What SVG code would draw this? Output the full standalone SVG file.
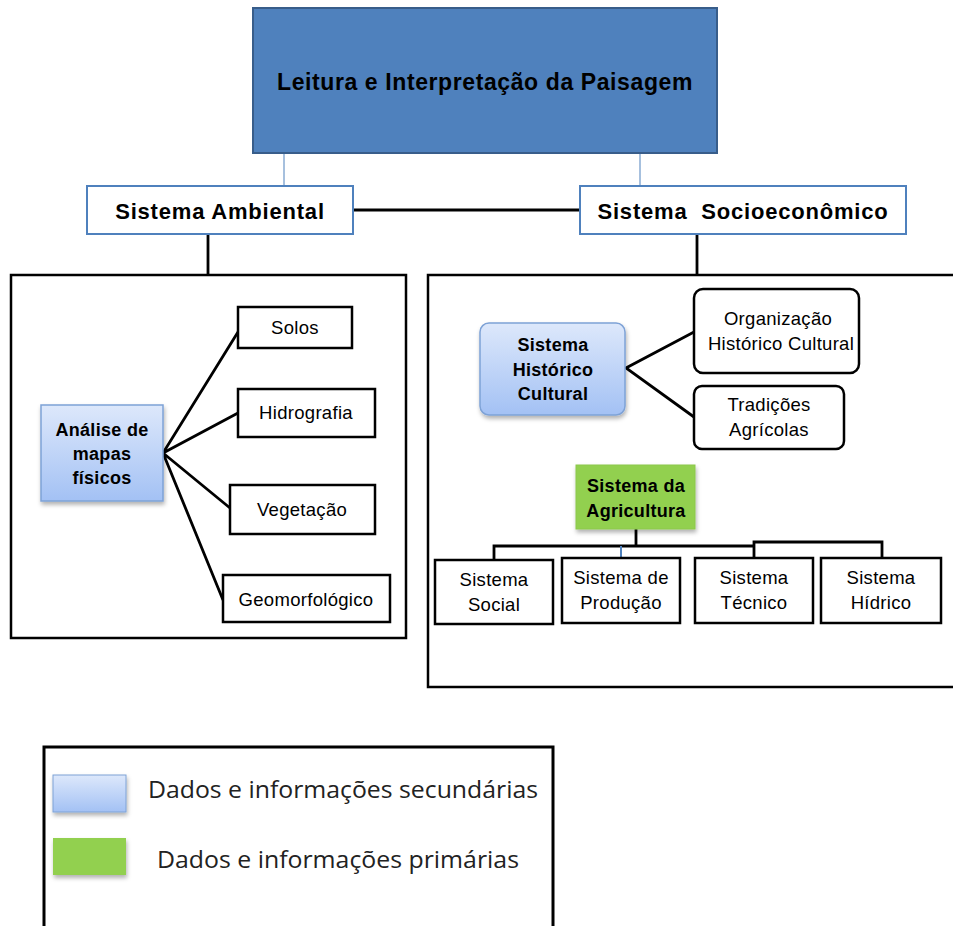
<svg xmlns="http://www.w3.org/2000/svg" width="953" height="926" viewBox="0 0 953 926">
<style>
text{font-family:"Liberation Sans","DejaVu Sans",sans-serif;fill:#000;text-anchor:middle}
.b{font-weight:bold}
.box{fill:#fff;stroke:#000;stroke-width:2.5}
.sys{fill:#fff;stroke:#4f81bd;stroke-width:2}
.ln{stroke:#000;stroke-width:2.8;fill:none}
.thin{stroke:#4f81bd;stroke-width:1;fill:none}
.n{font-size:18.5px;letter-spacing:0.3px}
.nb{font-size:18px;font-weight:bold;letter-spacing:0.3px}
.leg{font-family:"Open Sans","Liberation Sans",sans-serif;font-size:23px;text-anchor:start;fill:#222}
</style>
<defs>
<linearGradient id="gb" x1="0" y1="0" x2="0" y2="1"><stop offset="0" stop-color="#dde8fb"/><stop offset="1" stop-color="#a3c1f4"/></linearGradient>
<filter id="sh" x="-10%" y="-10%" width="130%" height="130%"><feDropShadow dx="1" dy="3" stdDeviation="2" flood-color="#000" flood-opacity="0.3"/></filter>
</defs>
<rect width="953" height="926" fill="#fff"/>
<g id="left-frame"><rect class="box" x="11" y="275" width="395" height="363"/></g>
<g id="right-frame"><rect class="box" x="428" y="275" width="540" height="412"/></g>
<g id="connectors">
<line class="thin" x1="284" y1="153" x2="284" y2="186"/>
<line class="thin" x1="640" y1="153" x2="640" y2="186"/>
<line class="ln" x1="353" y1="210" x2="580" y2="210"/>
<line class="ln" x1="208" y1="234" x2="208" y2="275"/>
<line class="ln" x1="697" y1="234" x2="697" y2="275"/>
<polyline class="ln" points="238,332 163,453 238,413"/>
<polyline class="ln" points="230,508 163,453 223,600"/>
<polyline class="ln" points="694,332 626,368 694,417"/>
<polyline class="ln" points="636,529 636,546"/>
<polyline class="ln" points="494,560 494,546 754,546"/>
<polyline class="ln" points="754,558 754,542 882,542 882,558"/>
<line x1="621" y1="546" x2="621" y2="558" stroke="#4f81bd" stroke-width="2"/>
</g>
<g id="title">
<rect x="253" y="8" width="464" height="145" fill="#4f81bd" stroke="#385d8a" stroke-width="2"/>
<text class="b" x="485" y="90" font-size="23" letter-spacing="0.6">Leitura e Interpretação da Paisagem</text>
</g>
<g id="ambiental">
<rect class="sys" x="87" y="186" width="266" height="48"/>
<text class="b" x="220" y="219" font-size="22" letter-spacing="0.8">Sistema Ambiental</text>
</g>
<g id="socio">
<rect class="sys" x="580" y="186" width="326" height="48"/>
<text class="b" x="743" y="219" font-size="22" letter-spacing="0.8" xml:space="preserve">Sistema  Socioeconômico</text>
</g>
<g id="analise">
<rect x="41" y="405" width="122" height="96" fill="url(#gb)" stroke="#7ea2d6" stroke-width="1.5" filter="url(#sh)"/>
<text class="nb" x="102" y="436">Análise de</text>
<text class="nb" x="102" y="460">mapas</text>
<text class="nb" x="102" y="484">físicos</text>
</g>
<g id="solos"><rect class="box" x="238" y="307" width="114" height="41"/><text class="n" x="295" y="334">Solos</text></g>
<g id="hidrografia"><rect class="box" x="238" y="389" width="137" height="48"/><text class="n" x="306" y="419">Hidrografia</text></g>
<g id="vegetacao"><rect class="box" x="230" y="485" width="145" height="49"/><text class="n" x="302" y="516">Vegetação</text></g>
<g id="geomorfologico"><rect class="box" x="223" y="575" width="167" height="47"/><text class="n" x="306" y="606">Geomorfológico</text></g>
<g id="historico">
<rect x="480" y="323" width="145" height="92" rx="9" fill="url(#gb)" stroke="#7ea2d6" stroke-width="1.5" filter="url(#sh)"/>
<text class="nb" x="553" y="351">Sistema</text>
<text class="nb" x="553" y="376">Histórico</text>
<text class="nb" x="553" y="400">Cultural</text>
</g>
<g id="organizacao">
<rect class="box" x="694" y="289" width="165" height="84" rx="9"/>
<text class="n" x="778" y="325">Organização</text>
<text class="n" x="781" y="350">Histórico Cultural</text>
</g>
<g id="tradicoes">
<rect class="box" x="694" y="386" width="150" height="63" rx="8"/>
<text class="n" x="769" y="411">Tradições</text>
<text class="n" x="769" y="436">Agrícolas</text>
</g>
<g id="agricultura">
<rect x="576" y="465" width="119" height="64" fill="#92d050" stroke="#8cc84a" stroke-width="1" filter="url(#sh)"/>
<text class="nb" x="636" y="492">Sistema da</text>
<text class="nb" x="636" y="517">Agricultura</text>
</g>
<g id="social"><rect class="box" x="435" y="560" width="118" height="64"/><text class="n" x="494" y="586">Sistema</text><text class="n" x="494" y="611">Social</text></g>
<g id="producao"><rect class="box" x="562" y="558" width="118" height="65"/><text class="n" x="621" y="584">Sistema de</text><text class="n" x="621" y="609">Produção</text></g>
<g id="tecnico"><rect class="box" x="695" y="558" width="118" height="65"/><text class="n" x="754" y="584">Sistema</text><text class="n" x="754" y="609">Técnico</text></g>
<g id="hidrico"><rect class="box" x="821" y="558" width="120" height="65"/><text class="n" x="881" y="584">Sistema</text><text class="n" x="881" y="609">Hídrico</text></g>
<g id="legend">
<rect x="44" y="747" width="509" height="200" fill="#fff" stroke="#000" stroke-width="3"/>
<rect x="53" y="775" width="73" height="37" fill="url(#gb)" stroke="#7ea2d6" stroke-width="1" filter="url(#sh)"/>
<rect x="53" y="838" width="73" height="37" fill="#92d050" filter="url(#sh)"/>
<text class="leg" x="148" y="798" textLength="390" lengthAdjust="spacingAndGlyphs">Dados e informações secundárias</text>
<text class="leg" x="157" y="868" textLength="362" lengthAdjust="spacingAndGlyphs">Dados e informações primárias</text>
</g>
</svg>
